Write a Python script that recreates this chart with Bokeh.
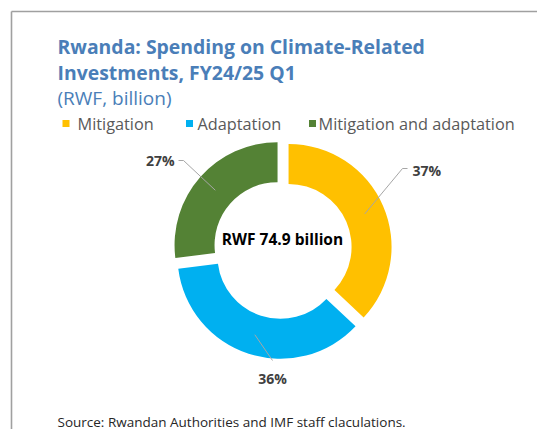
import math
from bokeh.plotting import figure
from bokeh.models import Range1d
from bokeh.core.properties import value
from bokeh.embed import file_html
from bokeh.resources import INLINE

# ---- data ----
categories = ["Mitigation", "Adaptation", "Mitigation and adaptation"]
shares = [37, 36, 27]          # percent of total
total_bn = 74.9                # RWF billion
colors = ["#FFC000", "#00B0F0", "#548235"]

title_lines = ["Rwanda: Spending on Climate-Related", "Investments, FY24/25 Q1"]
subtitle = "(RWF, billion)"
source = "Source: Rwandan Authorities and IMF staff claculations."

# ---- layout (screen pixels, y measured from the top) ----
W, H = 537, 429
FONT = "Open Sans"
TITLE_COLOR = "#4A7EB8"
TEXT_GRAY = "#595959"
LABEL_GRAY = "#404040"

cx, cy = 282, 249          # donut centre
r_out, r_in = 103, 63      # ring radii
explode = 6.6              # slice pull-out distance

legend_sq_x = [65.5, 189, 312]
legend_txt_x = [77, 197, 318]
legend_y = 123

# label anchor, alignment, leader elbow and leader end (screen px)
label_pos = [(412, 170, "left"), (272, 368, "center"), (174, 160, "right")]
label_base = ["middle", "top", "middle"]
leader_elbow = [(402, 168), (272, 360), (183, 160)]
leader_end = [(407, 168), (272, 360), (178, 160)]


def Y(y):
    return H - y


p = figure(width=W, height=H, x_range=Range1d(0, W), y_range=Range1d(0, H),
           output_backend="svg", toolbar_location=None, min_border=0,
           x_axis_type=None, y_axis_type=None)
p.grid.visible = False
p.outline_line_color = None
p.background_fill_color = "white"
p.border_fill_color = "white"

# frame lines (top and left)
p.line(x=[11, W], y=[Y(11), Y(11)], line_color="#A0A0A0", line_width=1.6)
p.line(x=[11, 11], y=[Y(11), Y(H)], line_color="#A0A0A0", line_width=1.6)

# ---- donut slices ----
tot = sum(shares)
cum = 0.0
xs, ys, starts, ends, mids = [], [], [], [], []
for s in shares:
    a0 = math.pi / 2 - 2 * math.pi * cum / tot
    cum += s
    a1 = math.pi / 2 - 2 * math.pi * cum / tot
    mid = (a0 + a1) / 2
    xs.append(cx + explode * math.cos(mid))
    ys.append(Y(cy) + explode * math.sin(mid))
    starts.append(a0)
    ends.append(a1)
    mids.append(mid)

p.annular_wedge(x=xs, y=ys, inner_radius=r_in, outer_radius=r_out,
                start_angle=starts, end_angle=ends, direction="clock",
                fill_color=colors, line_color=None)

# ---- leader lines and percentage labels ----
r_mid = (r_in + r_out) / 2
for i, s in enumerate(shares):
    px = xs[i] + r_mid * math.cos(mids[i])
    py = ys[i] + r_mid * math.sin(mids[i])
    ex, ey = leader_elbow[i]
    fx, fy = leader_end[i]
    p.line(x=[px, ex, fx], y=[py, Y(ey), Y(fy)], line_color="#A6A6A6", line_width=1)
    lx, ly, al = label_pos[i]
    p.text(x=[lx], y=[Y(ly)], text=[f"{s}%"], text_font=value(FONT),
           text_font_size="14px", text_font_style="bold", text_color=LABEL_GRAY,
           text_align=al, text_baseline=label_base[i])

# centre caption
p.text(x=[cx], y=[Y(238)], text=[f"RWF {total_bn} billion"], text_font=value(FONT),
       text_font_size="15.5px", text_font_style="bold", text_color="black",
       text_align="center", text_baseline="alphabetic")

# ---- titles ----
for yb, line in zip([46, 72], title_lines):
    p.text(x=[57], y=[Y(yb)], text=[line], text_font=value(FONT),
           text_font_size="19.4px", text_font_style="bold", text_color=TITLE_COLOR,
           text_align="left", text_baseline="alphabetic")
p.text(x=[57], y=[Y(97)], text=[subtitle], text_font=value(FONT),
       text_font_size="19px", text_color=TITLE_COLOR,
       text_align="left", text_baseline="alphabetic")

# ---- legend ----
p.scatter(x=legend_sq_x, y=[Y(legend_y)] * 3, marker="square", size=7,
          fill_color=colors, line_color=None)
p.text(x=legend_txt_x, y=[Y(legend_y)] * 3, text=categories, text_font=value(FONT),
       text_font_size="16.3px", text_color=TEXT_GRAY,
       text_align="left", text_baseline="middle")

# ---- source note ----
p.text(x=[57], y=[Y(421)], text=[source], text_font=value(FONT),
       text_font_size="13.5px", text_color="#262626",
       text_align="left", text_baseline="alphabetic")

open("out.html", "w").write(file_html(p, INLINE))
